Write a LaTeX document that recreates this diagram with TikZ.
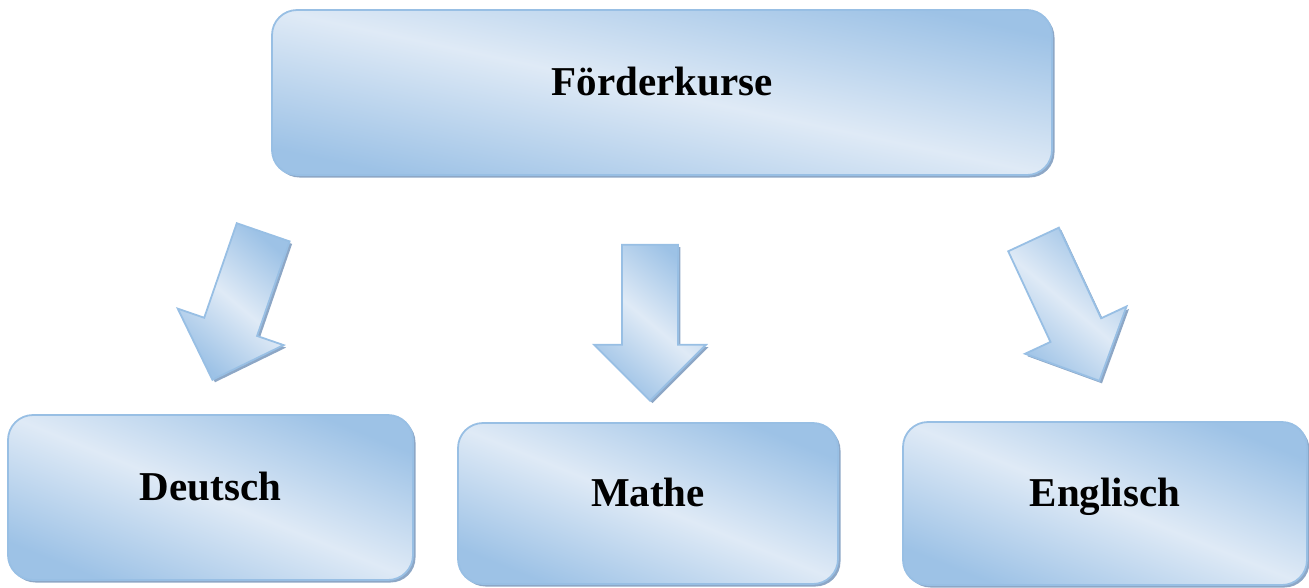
\documentclass[tikz,border=0pt]{standalone}
\usepackage{fontspec}
\setmainfont{Liberation Serif}
\usetikzlibrary{shapes.arrows,shadows}
\definecolor{kursdunkel}{HTML}{9DC2E6}
\definecolor{kurshell}{HTML}{DFEAF6}
\definecolor{kursrand}{HTML}{98BFE4}
\definecolor{kursschatten}{HTML}{8DA7C6}
\begin{document}
\begin{tikzpicture}[x=1pt, y=-1pt,
        blau/.style={draw=kursrand, line width=1.8pt,
            top color=kursdunkel, bottom color=kursdunkel, middle color=kurshell,
            drop shadow={shadow xshift=2.5pt, shadow yshift=-2.5pt, fill=kursschatten, opacity=1}},
        kurs/.style={blau, rectangle, rounded corners=25pt, inner sep=0pt,
            font=\fontsize{41}{49}\selectfont\bfseries, text height=28pt, text depth=22pt},
        pfeil/.style={blau, shading angle=-40, single arrow, single arrow head extend=28pt,
            minimum height=156pt, minimum width=112pt, inner xsep=0pt, inner ysep=27pt, anchor=tip}]
    \useasboundingbox (0,0) rectangle (1309,587);

    \node[kurs, shading angle=-12, minimum width=780pt, minimum height=165pt] (foerder) at (662,92.5) {Förderkurse};

    \node[kurs, shading angle=-22, minimum width=405pt, minimum height=165pt] (deutsch) at (210.5,497.5) {Deutsch};
    \node[kurs, shading angle=-22, minimum width=380pt, minimum height=161pt] (mathe) at (648,503.5) {Mathe};
    \node[kurs, shading angle=-22, minimum width=404pt, minimum height=163pt] (englisch) at (1105,503.5) {Englisch};

    \foreach \x/\y/\w [count=\i] in {212/381/-109, 650/402/-90, 1100/382/-65}{
        \node[pfeil, rotate=\w] (pfeil\i) at (\x,\y) {};
    }
\end{tikzpicture}
\end{document}
